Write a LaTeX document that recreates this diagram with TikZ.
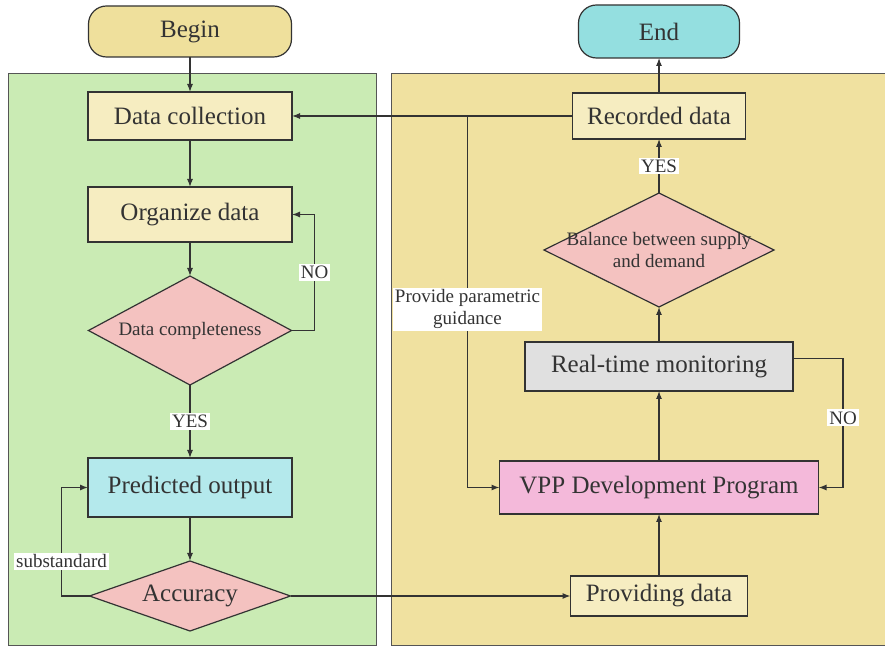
\documentclass[tikz,border=0pt]{standalone}
\usepackage{fontspec}
\setmainfont{Liberation Serif}
\usetikzlibrary{arrows.meta,positioning,shapes.geometric}

\definecolor{ink}{HTML}{333333}
\definecolor{panelline}{HTML}{555555}
\definecolor{panelgreen}{HTML}{CAEBB4}
\definecolor{panelyellow}{HTML}{F0E1A0}
\definecolor{termyellow}{HTML}{EFE09C}
\definecolor{termcyan}{HTML}{94DFE0}
\definecolor{lightbox}{HTML}{F6EDC1}
\definecolor{decpink}{HTML}{F4C2C0}
\definecolor{predblue}{HTML}{B4E9EC}
\definecolor{monigray}{HTML}{E0E0E0}
\definecolor{vpppink}{HTML}{F4B9DA}

\begin{document}
\begin{tikzpicture}[x=1pt,y=1pt,font=\fontsize{25}{30}\selectfont,text=ink,
  box/.style={draw=ink,line width=1.2pt,fill=lightbox,minimum width=204pt,minimum height=48pt,inner sep=3pt,outer sep=0pt},
  term/.style={box,rounded corners=18pt},
  dec/.style={diamond,draw=ink,line width=1.2pt,fill=decpink,inner sep=0pt,outer sep=0pt},
  lbl/.style={fill=white,inner sep=2pt,font=\fontsize{19}{22}\selectfont,align=center},
  arrow/.style={-{Latex[length=8pt,width=6pt]},line width=1.1pt,draw=ink}]
\useasboundingbox (0,0) rectangle (885,647);
% panels
\filldraw[draw=panelline,fill=panelgreen,line width=0.8pt] (8,2) rectangle (376,574);
\filldraw[draw=panelline,fill=panelyellow,line width=0.8pt] (391,2) rectangle (892,574);
% left column
\node[term,fill=termyellow,minimum width=203pt,minimum height=51pt] (begin) at (190,615.5) {Begin};
\node[box,below=35pt of begin] (collect) {Data collection};
\node[box,minimum height=55pt,below=47pt of collect] (organize) {Organize data};
\node[dec,aspect=1.86,minimum width=203pt,minimum height=109pt,below=34pt of organize,font=\fontsize{19}{22}\selectfont] (dcomp) {Data completeness};
\node[box,fill=predblue,minimum height=59pt,below=73pt of dcomp] (predict) {Predicted output};
\node[dec,aspect=2.87,minimum width=201pt,minimum height=70pt,below=44pt of predict] (accuracy) {Accuracy};
% right column
\node[term,fill=termcyan,minimum width=161pt,minimum height=53pt] (end) at (659,615.5) {End};
\node[box,minimum width=173pt,minimum height=46pt,below=35pt of end] (recorded) {Recorded data};
\node[dec,aspect=2,minimum width=230pt,minimum height=114pt,below=54pt of recorded,
  label={[font=\fontsize{19}{22}\selectfont,align=center]center:Balance between supply\\and demand}] (balance) {};
\node[box,fill=monigray,minimum width=268pt,minimum height=49pt,below=35pt of balance] (rtm) {Real-time monitoring};
\node[box,fill=vpppink,minimum width=319pt,minimum height=53pt,below=70pt of rtm] (vpp) {VPP Development Program};
\node[box,minimum width=177pt,minimum height=40pt,below=62pt of vpp] (provide) {Providing data};
\coordinate[left=105pt of recorded.west] (split);
% connectors
\draw[arrow] (begin) -- (collect);
\draw[arrow] (collect) -- (organize);
\draw[arrow] (organize) -- (dcomp);
\draw[arrow] (dcomp.east) -- ++(23pt,0) |- (organize.east) node[lbl,pos=0.25] {NO};
\draw[arrow] (dcomp) -- node[lbl] {YES} (predict);
\draw[arrow] (predict) -- (accuracy);
\draw[arrow] (accuracy.west) -- ++(-28pt,0) |- (predict.west) node[lbl,pos=0.16] {substandard};
\draw[arrow] (accuracy.east) -- (provide.west);
\draw[arrow] (provide) -- (vpp);
\draw[arrow] (vpp) -- (rtm);
\draw[arrow] (rtm) -- (balance);
\draw[arrow] ([yshift=8pt]rtm.east) -- ++(50pt,0) |- (vpp.east) node[lbl,pos=0.23] {NO};
\draw[arrow] (balance) -- node[lbl] {YES} (recorded);
\draw[arrow] (recorded) -- (end);
\draw[arrow] (recorded.west) -- (collect.east);
\draw[arrow] (split) |- (vpp.west) node[lbl,pos=0.26] {Provide parametric\\guidance};
\end{tikzpicture}
\end{document}
